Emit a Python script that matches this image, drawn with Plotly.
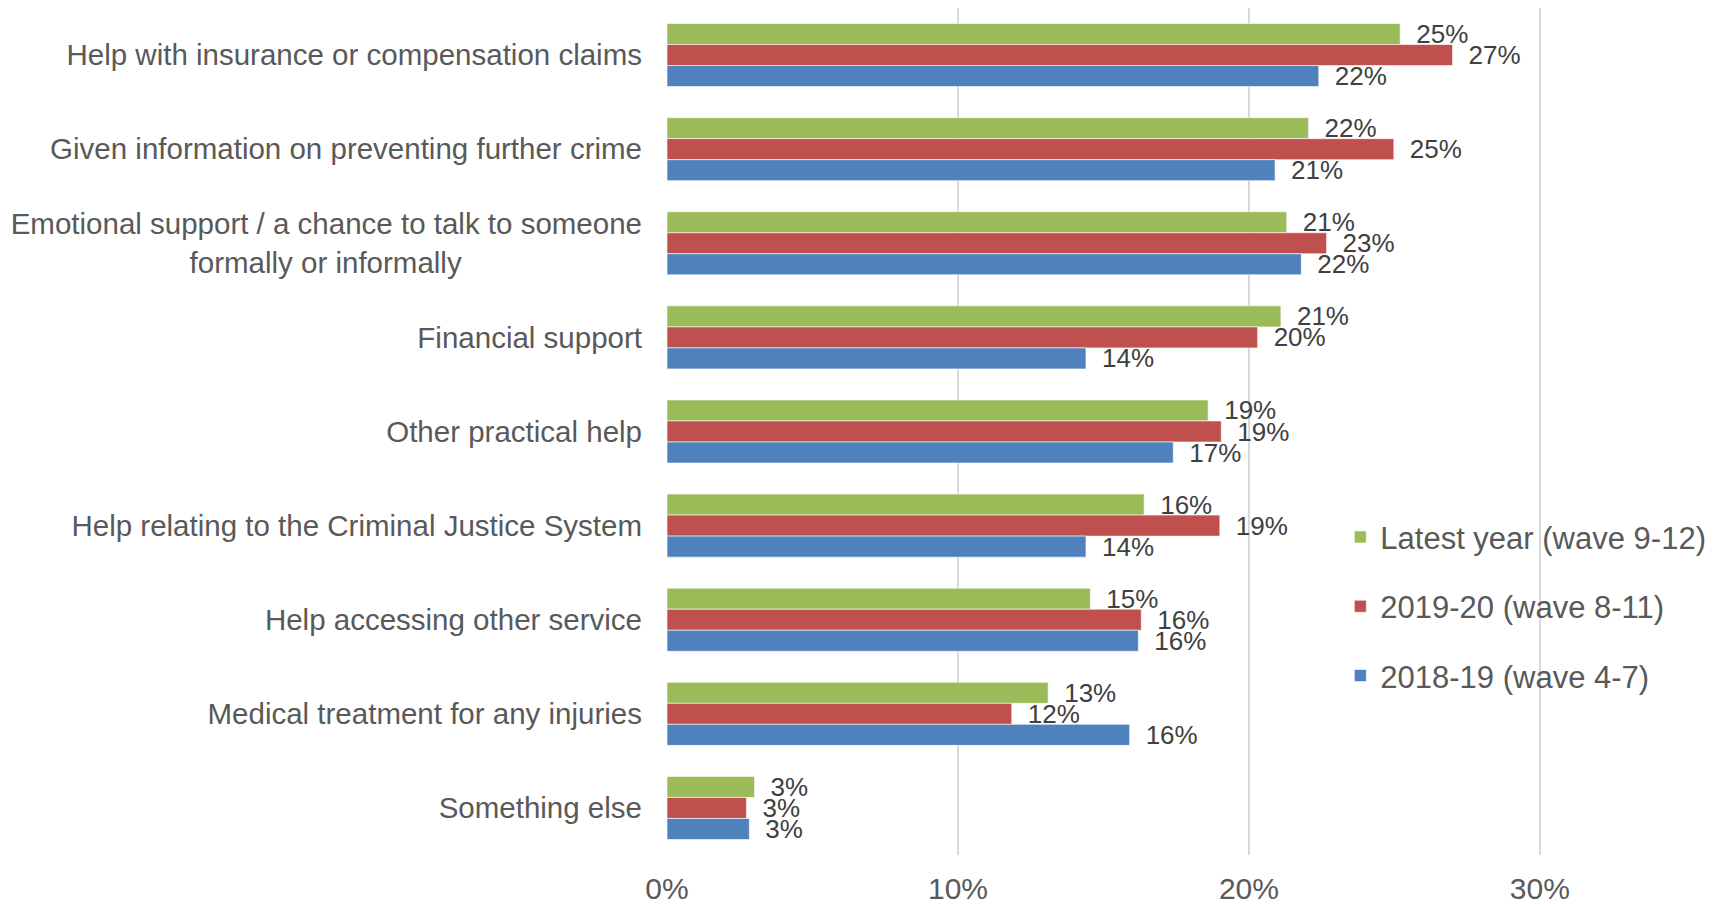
import plotly.graph_objects as go

categories = [
    "Help with insurance or compensation claims",
    "Given information on preventing further crime",
    "Emotional support / a chance to talk to someone<br>formally or informally" + "\u00a0" * 22,
    "Financial support",
    "Other practical help",
    "Help relating to the Criminal Justice System",
    "Help accessing other service",
    "Medical treatment for any injuries",
    "Something else",
]

series_names = ["Latest year (wave 9-12)", "2019-20 (wave 8-11)", "2018-19 (wave 4-7)"]
latest = [0.252, 0.2205, 0.213, 0.211, 0.186, 0.164, 0.1455, 0.131, 0.0301]
y2019_20 = [0.270, 0.2498, 0.2267, 0.203, 0.1905, 0.190, 0.163, 0.1185, 0.0273]
y2018_19 = [0.224, 0.209, 0.218, 0.144, 0.174, 0.144, 0.162, 0.159, 0.0283]
colors = ["#9BBB59", "#C0504D", "#4F81BD"]

x_ticks = [0, 0.1, 0.2, 0.3]
x_ticklabels = ["0%", "10%", "20%", "30%"]

fig = go.Figure()
for name, vals, col in zip(series_names, [latest, y2019_20, y2018_19], colors):
    fig.add_trace(go.Bar(
        y=categories, x=vals, name=name, orientation="h",
        marker=dict(color=col, line=dict(color="white", width=0.6)),
        text=vals, texttemplate="\u2002%{x:.0%}", textposition="outside",
        constraintext="none", cliponaxis=False,
        textfont=dict(family="Liberation Sans, Arial", size=26, color="#404040"),
        legendgroup=name,
    ))

fig.update_layout(
    width=1729, height=905,
    margin=dict(l=667, r=0, t=8, b=50),
    paper_bgcolor="white", plot_bgcolor="white",
    barmode="group", bargap=0.33, bargroupgap=0,
    font=dict(family="Liberation Sans, Arial", color="#595959"),
    xaxis=dict(
        range=[0, 0.365], tickvals=x_ticks, ticktext=x_ticklabels,
        showgrid=True, gridcolor="#D9D9D9", gridwidth=1.5,
        zeroline=False, showline=False,
        tickfont=dict(size=30, color="#595959"), ticklabelstandoff=13,
    ),
    yaxis=dict(
        autorange="reversed", showgrid=False, showline=False, zeroline=False,
        tickfont=dict(size=29.5, color="#595959"), ticklabelstandoff=24,
    ),
    legend=dict(
        x=0.634, xanchor="left", y=0.407, yanchor="top",
        font=dict(size=31, color="#595959"),
        traceorder="grouped", tracegroupgap=26,
        bgcolor="rgba(0,0,0,0)",
    ),
    showlegend=True,
)

fig.write_html("out.html", config={"displayModeBar": False},
               post_script="document.body.style.margin='0';")
